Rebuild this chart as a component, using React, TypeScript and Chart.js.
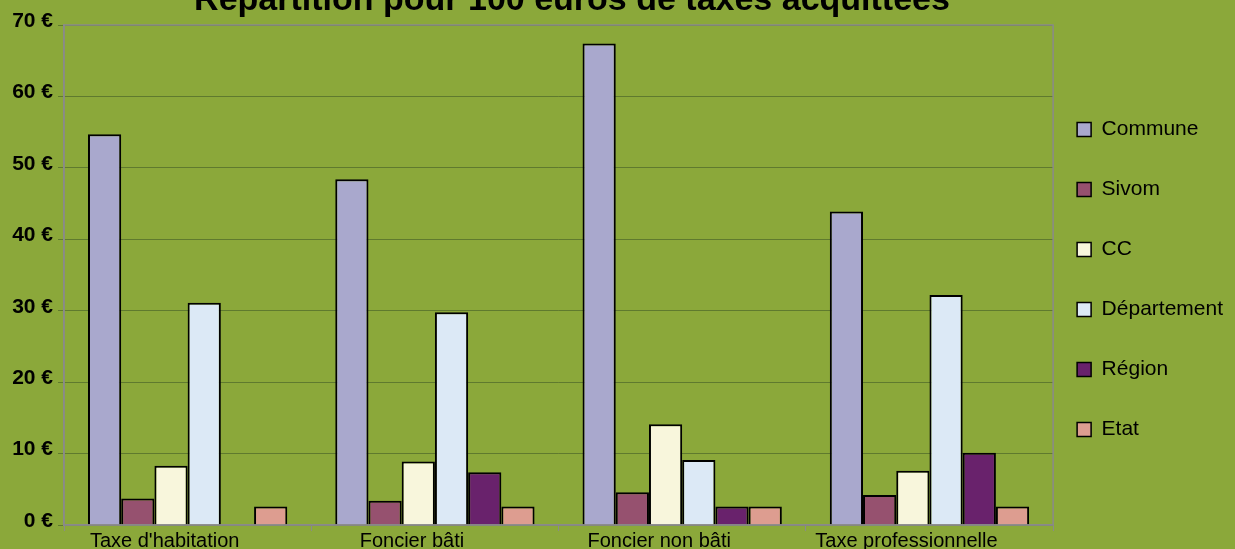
import React, { useEffect, useRef } from "react";
import { Chart, registerables } from "chart.js";

Chart.register(...registerables);

const TITLE = "Répartition pour 100 euros de taxes acquittées";
const categories = ["Taxe d'habitation", "Foncier bâti", "Foncier non bâti", "Taxe professionnelle"];
const seriesNames = ["Commune", "Sivom", "CC", "Département", "Région", "Etat"];
const commune = [54.7, 48.4, 67.4, 43.9];
const sivom = [3.7, 3.4, 4.6, 4.2];
const cc = [8.3, 8.9, 14.1, 7.6];
const departement = [31.1, 29.8, 9.1, 32.2];
const region = [0, 7.4, 2.6, 10.1];
const etat = [2.6, 2.6, 2.6, 2.6];
const seriesValues = [commune, sivom, cc, departement, region, etat];
const seriesColors = ["#a9a8cd", "#96516f", "#f8f6dc", "#dce9f6", "#69226c", "#dd9d90"];
const yTicks = [0, 10, 20, 30, 40, 50, 60, 70];

const BG = "#8ba83a";
const GRID = "#5f7a2e";
const AXIS = "#8a8a8a";
const FONT = "'Liberation Sans', Arial, sans-serif";

const frame = {
  id: "frame",
  beforeDraw(chart: any) {
    const { ctx, width, height } = chart;
    ctx.save();
    ctx.fillStyle = BG;
    ctx.fillRect(0, 0, width, height);
    ctx.restore();
  },
  afterDatasetsDraw(chart: any) {
    const { ctx, chartArea } = chart;
    ctx.save();
    ctx.strokeStyle = AXIS;
    ctx.lineWidth = 1.5;
    ctx.strokeRect(chartArea.left, chartArea.top, chartArea.right - chartArea.left, chartArea.bottom - chartArea.top);
    ctx.restore();
  },
  afterDraw(chart: any) {
    const { ctx } = chart;
    ctx.save();
    ctx.fillStyle = "#000";
    ctx.font = `bold 34px ${FONT}`;
    ctx.textAlign = "center";
    ctx.textBaseline = "alphabetic";
    ctx.fillText(TITLE, 572, 10);
    ctx.restore();
  },
};

export default function App() {
  const ref = useRef<HTMLCanvasElement>(null);
  useEffect(() => {
    if (!ref.current) return;
    const chart = new Chart(ref.current, {
      type: "bar",
      data: {
        labels: categories,
        datasets: seriesNames.map((name, i) => ({
          label: name,
          data: seriesValues[i],
          backgroundColor: seriesColors[i],
          borderColor: "#000",
          borderWidth: 2,
          borderSkipped: "bottom",
          categoryPercentage: 0.806,
          barPercentage: 1.0,
        })),
      },
      options: {
        animation: false,
        responsive: false,
        devicePixelRatio: 1,
        layout: { padding: { top: 25, left: 0, right: 2, bottom: 0 } },
        plugins: {
          title: { display: false },
          tooltip: { enabled: false },
          legend: {
            position: "right",
            align: "center",
            labels: {
              color: "#000",
              font: { family: FONT, size: 21, lineHeight: 36 / 21 },
              boxWidth: 14,
              boxHeight: 14,
              padding: 24,
              generateLabels(chart: any) {
                const items = Chart.defaults.plugins.legend.labels.generateLabels(chart);
                return items.map((it: any) => ({ ...it, text: [it.text], lineWidth: 1.5 }));
              },
            },
          },
        },
        scales: {
          x: {
            afterFit(scale: any) {
              scale.height = 24;
            },
            grid: {
              offset: true,
              drawOnChartArea: false,
              drawTicks: true,
              tickLength: 6,
              color: AXIS,
            },
            border: { color: AXIS, width: 1.5 },
            ticks: {
              color: "#000",
              font: { family: FONT, size: 20 },
              padding: -2,
              labelOffset: -23,
              maxRotation: 0,
              autoSkip: false,
            },
          },
          y: {
            min: 0,
            max: 70,
            afterFit(scale: any) {
              scale.width = 64;
            },
            afterBuildTicks(scale: any) {
              scale.ticks = yTicks.map((v) => ({ value: v }));
            },
            grid: { color: GRID, lineWidth: 1, tickLength: 6, drawTicks: true },
            border: { color: AXIS, width: 1.5 },
            ticks: {
              color: "#000",
              padding: 5,
              labelOffset: -4,
              font: { family: FONT, size: 21, weight: "bold" },
              callback: (v: any) => `${v} €`,
            },
          },
        },
      },
      plugins: [frame],
    });
    return () => chart.destroy();
  }, []);
  return (
    <div style={{ position: "fixed", left: 0, top: 0, width: 1235, height: 549 }}>
      <canvas ref={ref} width={1235} height={549} style={{ display: "block" }} />
    </div>
  );
}
